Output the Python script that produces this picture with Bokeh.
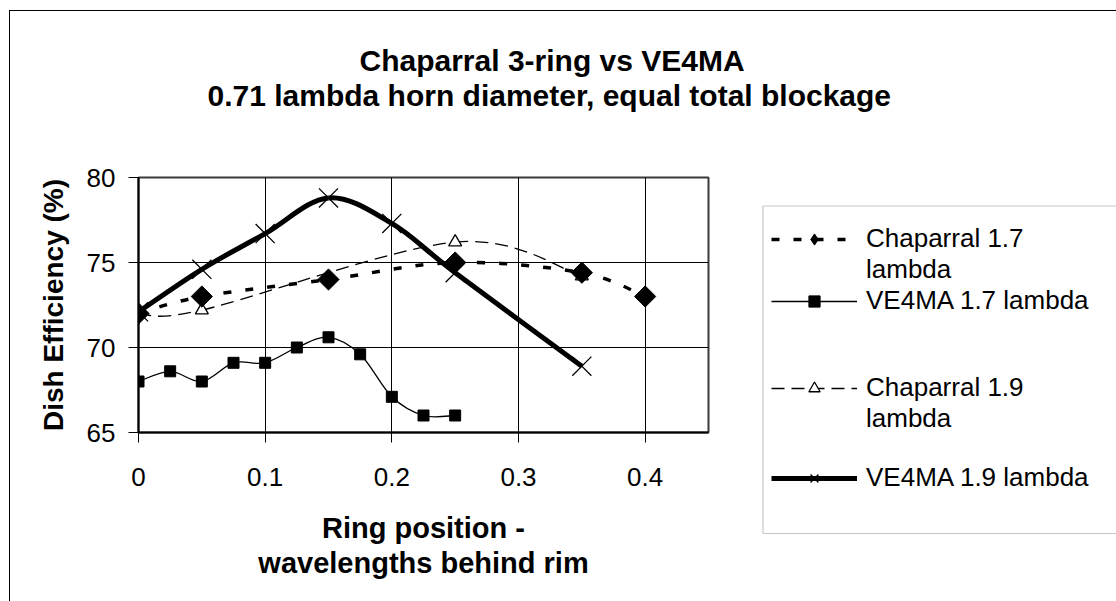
import numpy as np
from bokeh.plotting import figure
from bokeh.layouts import column, row
from bokeh.models import Range1d, FixedTicker, Legend, LegendItem, Title, BoxAnnotation
from bokeh.embed import file_html
from bokeh.resources import INLINE

# ---------------- data ----------------
chap17_x = [0.0, 0.05, 0.15, 0.25, 0.35, 0.40]
chap17_y = [72.0, 73.0, 74.0, 75.0, 74.4, 73.0]

ve17_x = [0.0, 0.025, 0.05, 0.075, 0.10, 0.125, 0.15, 0.175, 0.20, 0.225, 0.25]
ve17_y = [68.0, 68.6, 68.0, 69.1, 69.1, 70.0, 70.6, 69.6, 67.1, 66.0, 66.0]

chap19_x = [0.0, 0.05, 0.25, 0.35]
chap19_y = [72.0, 72.2, 76.2, 74.2]

ve19_x = [0.0, 0.05, 0.10, 0.15, 0.20, 0.25, 0.35]
ve19_y = [72.1, 74.6, 76.7, 78.8, 77.3, 74.4, 68.9]

x_ticks = [0.0, 0.1, 0.2, 0.3, 0.4]
x_tick_labels = ["0", "0.1", "0.2", "0.3", "0.4"]
y_ticks = [65, 70, 75, 80]

title_lines = ["Chaparral 3-ring vs VE4MA",
               "0.71 lambda horn diameter, equal total blockage"]
x_title = "Ring position -\nwavelengths behind rim"
y_title = "Dish Efficiency (%)"
legend_rows = ["Chaparral 1.7", "lambda", "VE4MA 1.7 lambda", " ", " ",
               "Chaparral 1.9", "lambda", " ", "VE4MA 1.9 lambda"]

FONT = "Liberation Sans"

# ---------------- layout (pixels of the picture) ----------------
TOTAL_W, TOTAL_H = 1116, 601
TOP_H = 150                      # strip holding the chart title
MAIN_W = 761                     # plot part; the legend strip starts here
F_LEFT, F_TOP, F_RIGHT, F_BOTTOM = 138, 177, 708, 432   # plot frame in picture pixels


def border_css(top_edge):
    imgs = ["linear-gradient(#000,#000)"]
    sizes = ["1px 3000px"]
    pos = ["9px %dpx" % (10 if top_edge else 0)]
    if top_edge:
        imgs.append("linear-gradient(#000,#000)")
        sizes.append("3000px 1px")
        pos.append("9px 10px")
    return {"background-color": "white", "background-image": ", ".join(imgs),
            "background-size": ", ".join(sizes), "background-position": ", ".join(pos),
            "background-repeat": "no-repeat"}


def no_frame_align(fig):
    if "frame_align" in fig.properties():
        fig.frame_align = False
        return True
    return False


# ---------------- title strip ----------------
top = figure(width=TOTAL_W, height=TOP_H, output_backend="svg", toolbar_location=None,
             title=None, x_axis_type=None, y_axis_type=None,
             x_range=Range1d(0, 1), y_range=Range1d(0, 1),
             min_border_left=0, min_border_right=0, min_border_top=111, min_border_bottom=0)
top.outline_line_color = None
top.background_fill_color = None
top.border_fill_color = None
top.styles = border_css(True)
top.add_layout(Title(text=title_lines[1], align="left", offset=207, standoff=0,
                     text_font=FONT, text_font_size="30px", text_font_style="bold",
                     text_color="black"), "above")
top.add_layout(Title(text=title_lines[0], align="left", offset=359, standoff=0,
                     text_font=FONT, text_font_size="30px", text_font_style="bold",
                     text_color="black"), "above")
no_frame_align(top)

# ---------------- main plot ----------------
MAIN_H = TOTAL_H - TOP_H
p = figure(width=MAIN_W, height=MAIN_H, output_backend="svg", toolbar_location=None,
           title=None,
           x_range=Range1d(0, 0.45), y_range=Range1d(65, 80),
           min_border_left=F_LEFT, min_border_right=MAIN_W - F_RIGHT,
           min_border_top=F_TOP - TOP_H, min_border_bottom=TOTAL_H - F_BOTTOM)
p.background_fill_color = "white"
p.border_fill_color = None
p.outline_line_color = "#3a3a3a"
p.outline_line_width = 2
p.styles = border_css(False)
no_frame_align(p)

for ax in (p.xaxis[0], p.yaxis[0]):
    ax.axis_line_color = "black"
    ax.axis_line_width = 2
    ax.major_tick_line_color = "black"
    ax.major_tick_line_width = 1
    ax.major_tick_out = 10
    ax.major_tick_in = 0
    ax.minor_tick_line_color = None
    ax.major_label_text_font = FONT
    ax.major_label_text_font_size = "26px"
    ax.major_label_text_color = "black"
    ax.axis_label_text_font = FONT
    ax.axis_label_text_font_style = "bold"
    ax.axis_label_text_color = "black"

p.xaxis.ticker = FixedTicker(ticks=x_ticks)
p.xaxis.major_label_overrides = {t: s for t, s in zip(x_ticks, x_tick_labels)}
p.xaxis.major_label_standoff = 25
p.xaxis.axis_label = x_title
p.xaxis.axis_label_text_font_size = "29px"
p.xaxis.axis_label_text_line_height = 1.1
p.xaxis.axis_label_standoff = 23

p.yaxis.ticker = FixedTicker(ticks=y_ticks)
p.yaxis.major_label_standoff = 13
p.yaxis.axis_label = y_title
p.yaxis.axis_label_text_font_size = "28px"
p.yaxis.axis_label_standoff = 15

p.xgrid.ticker = FixedTicker(ticks=x_ticks)
p.ygrid.ticker = FixedTicker(ticks=y_ticks)
for g in (p.xgrid[0], p.ygrid[0]):
    g.grid_line_color = "black"
    g.grid_line_alpha = 1.0
    g.grid_line_width = 1


def smooth(xs, ys):
    """Bezier control points (Catmull-Rom style, like spreadsheet smoothed lines)."""
    n = len(xs)
    d = dict(x0=[], y0=[], x1=[], y1=[], cx0=[], cy0=[], cx1=[], cy1=[])
    for i in range(n - 1):
        a = i - 1 if i > 0 else i
        b = i + 2 if i + 2 < n else i + 1
        d["x0"].append(xs[i]); d["y0"].append(ys[i])
        d["x1"].append(xs[i + 1]); d["y1"].append(ys[i + 1])
        d["cx0"].append(xs[i] + (xs[i + 1] - xs[a]) / 6.0)
        d["cy0"].append(ys[i] + (ys[i + 1] - ys[a]) / 6.0)
        d["cx1"].append(xs[i + 1] - (xs[b] - xs[i]) / 6.0)
        d["cy1"].append(ys[i + 1] - (ys[b] - ys[i]) / 6.0)
    return d


STYLE = {
    "ve19": dict(line=dict(line_color="black", line_width=5),
                 mark=dict(marker="x", size=27, line_color="black", line_width=1.3)),
    "ve17": dict(line=dict(line_color="black", line_width=1.3),
                 mark=dict(marker="square", size=11, color="black")),
    "ch19": dict(line=dict(line_color="black", line_width=1.3, line_dash="13 7"),
                 mark=dict(marker="triangle", size=13, fill_color="white",
                           line_color="black", line_width=1.3)),
    "ch17": dict(line=dict(line_color="black", line_width=3.5, line_dash="8 14"),
                 mark=dict(marker="square", angle=np.pi / 4, size=15, color="black")),
}
SERIES = {"ve19": (ve19_x, ve19_y), "ve17": (ve17_x, ve17_y),
          "ch19": (chap19_x, chap19_y), "ch17": (chap17_x, chap17_y)}

for key in ["ve19", "ve17", "ch19", "ch17"]:
    xs, ys = SERIES[key]
    p.bezier(**smooth(xs, ys), **STYLE[key]["line"])
    p.scatter(xs, ys, **STYLE[key]["mark"])

# ---------------- legend strip ----------------
# ranges in pixels of this strip (x to the right, y negative downwards from its top)
LEG_W = TOTAL_W - MAIN_W
leg = figure(width=LEG_W, height=MAIN_H, output_backend="svg", toolbar_location=None,
             title=None, x_axis_type=None, y_axis_type=None,
             x_range=Range1d(0, LEG_W), y_range=Range1d(-MAIN_H, 0), min_border=0)
leg.outline_line_color = None
leg.background_fill_color = "white"
leg.border_fill_color = "white"
aligned_off = no_frame_align(leg)

# legend box: its right edge lies beyond the window, as in the reference
leg.add_layout(BoxAnnotation(left=762.5 - MAIN_W, right=LEG_W + 100,
                             top=-(205.5 - TOP_H), bottom=-(533 - TOP_H),
                             fill_alpha=0, line_color="#444444", line_width=1.2))

# the same series again, lying outside this strip's view, only for the legend keys
keys = {}
for key, label in [("ch17", "Chaparral 1.7"), ("ve17", "VE4MA 1.7 lambda"),
                   ("ch19", "Chaparral 1.9"), ("ve19", "VE4MA 1.9 lambda")]:
    xs, ys = SERIES[key]
    mark = dict(STYLE[key]["mark"])
    if key == "ch17":
        mark.pop("angle")
        mark["marker"] = "diamond"
    keys[label] = [leg.line(xs, ys, **STYLE[key]["line"]), leg.scatter(xs, ys, **mark)]
ghost = leg.line(chap17_x, chap17_y, line_alpha=0)

items = [LegendItem(label=t, renderers=keys.get(t, [ghost])) for t in legend_rows]
ROW = 28
LAST_ROW_CENTER = 479
legend = Legend(items=items,
                location=(771 - MAIN_W, TOTAL_H - (LAST_ROW_CENTER + 14.3)),
                padding=0, margin=0, spacing=0,
                border_line_alpha=0, background_fill_alpha=0,
                glyph_width=86, glyph_height=ROW, label_height=ROW,
                label_standoff=9, label_text_font=FONT, label_text_font_size="26px",
                label_text_line_height=1.1, label_text_color="black")
leg.add_layout(legend, "center")

if aligned_off:
    body = row(p, leg, spacing=0)
else:
    body = row(column(p, spacing=0), column(leg, spacing=0), spacing=0)
root = column(top, body, spacing=0)
open("out.html", "w").write(file_html(root, INLINE))
